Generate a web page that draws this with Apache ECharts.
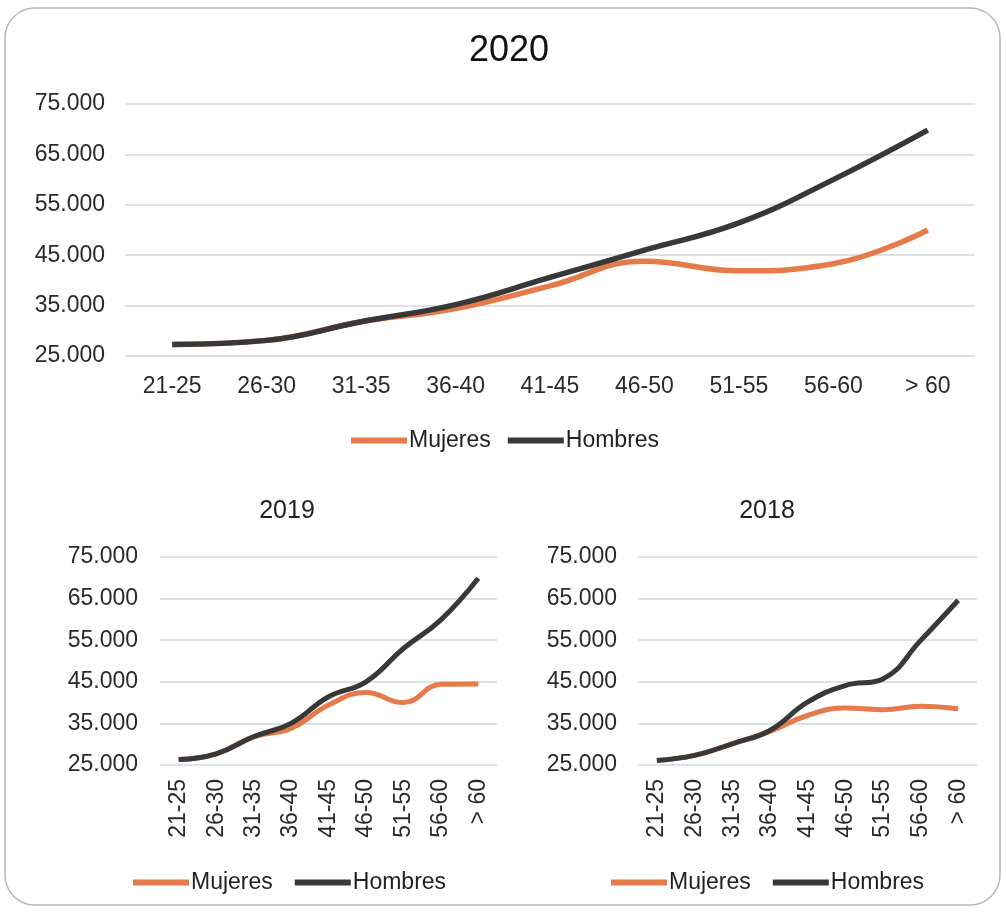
<!DOCTYPE html>
<html><head><meta charset="utf-8">
<script src="https://cdn.jsdelivr.net/npm/echarts@6/dist/echarts.min.js"></script>
<style>html,body{margin:0;padding:0;background:#fff}#c{width:1006px;height:912px}</style>
</head><body><div id="c"></div>
<script>
const categories = ['21-25','26-30','31-35','36-40','41-45','46-50','51-55','56-60','> 60'];
const mujeres2020 = [27300, 28100, 31800, 34400, 38900, 43800, 41900, 43300, 50000];
const hombres2020 = [27300, 28100, 31800, 35200, 40600, 46000, 51400, 60000, 69800];
const mujeres2019 = [26300, 27700, 31800, 33800, 39400, 42400, 40000, 44400, 44500];
const hombres2019 = [26300, 27700, 31800, 35000, 41400, 45000, 53000, 59900, 69900];
const mujeres2018 = [26100, 27300, 30100, 33100, 36900, 38700, 38300, 39100, 38500];
const hombres2018 = [26100, 27300, 30100, 33300, 40100, 44100, 45700, 54900, 64600];
const yMin = 25000, yMax = 75000, yStep = 10000;

const ORANGE = '#E57B4B', DARK = '#383838';
const FONT = 'Liberation Sans, Arial, sans-serif';
const fmt = v => String(v).replace(/\B(?=(\d{3})+(?!\d))/g, '.');

function yAxis(gi, size, margin){
  return {gridIndex: gi, type:'value', min:yMin, max:yMax, interval:yStep,
    axisLine:{show:false}, axisTick:{show:false},
    splitLine:{lineStyle:{color:'#d0d8e0', width:1.5}},
    axisLabel:{formatter:fmt, color:'#2a2a2a', fontSize:size, fontFamily:FONT, margin:margin}};
}
function xAxis(gi, size, rotate, margin){
  return {gridIndex: gi, type:'category', data:categories, boundaryGap:true,
    axisLine:{show:false}, axisTick:{show:false},
    axisLabel:{color:'#2a2a2a', fontSize:size, fontFamily:FONT, rotate:rotate, margin:margin, interval:0}};
}
function line(name, data, color, gi, w){
  return {name, type:'line', data, xAxisIndex:gi, yAxisIndex:gi, smooth:0.45,
    symbol:'none', lineStyle:{color, width:w}, itemStyle:{color}, z: name==='Hombres'?3:2};
}
function legend(left, top, size, gap){
  return {left, top, icon:'rect', itemWidth:56, itemHeight:6, itemGap:gap,
    data:['Mujeres','Hombres'],
    textStyle:{fontSize:size, color:'#222', fontFamily:FONT, padding:[0,0,0,-3]}};
}

const chart = echarts.init(document.getElementById('c'));
chart.setOption({
  animation:false,
  color:[ORANGE, DARK],
  graphic:[{type:'rect', shape:{x:5, y:8, width:995, height:897, r:30},
    style:{fill:'none', stroke:'#b8b8b8', lineWidth:1.5}, silent:true}],
  title:[
    {text:'2020', left:504, top:28, textAlign:'center', textStyle:{fontSize:36, fontWeight:'normal', color:'#111', fontFamily:FONT}},
    {text:'2019', left:282, top:494, textAlign:'center', textStyle:{fontSize:25, fontWeight:'normal', color:'#222', fontFamily:FONT}},
    {text:'2018', left:762, top:494, textAlign:'center', textStyle:{fontSize:25, fontWeight:'normal', color:'#222', fontFamily:FONT}}
  ],
  legend:[legend(346, 424, 23, 17), legend(128, 866, 23, 22), legend(606, 866, 23, 22)],
  grid:[
    {left:125, top:104, width:850, height:252},
    {left:160, top:557, width:337, height:208},
    {left:638, top:557, width:339, height:208}
  ],
  xAxis:[xAxis(0, 23, 0, 19), xAxis(1, 23, 90, 14), xAxis(2, 23, 90, 14)],
  yAxis:[yAxis(0, 23, 20), yAxis(1, 23, 22), yAxis(2, 23, 21)],
  series:[
    line('Mujeres', mujeres2020, ORANGE, 0, 5.5),
    line('Hombres', hombres2020, DARK, 0, 5.5),
    line('Mujeres', mujeres2019, ORANGE, 1, 5),
    line('Hombres', hombres2019, DARK, 1, 5),
    line('Mujeres', mujeres2018, ORANGE, 2, 5),
    line('Hombres', hombres2018, DARK, 2, 5)
  ]
});
</script></body></html>
